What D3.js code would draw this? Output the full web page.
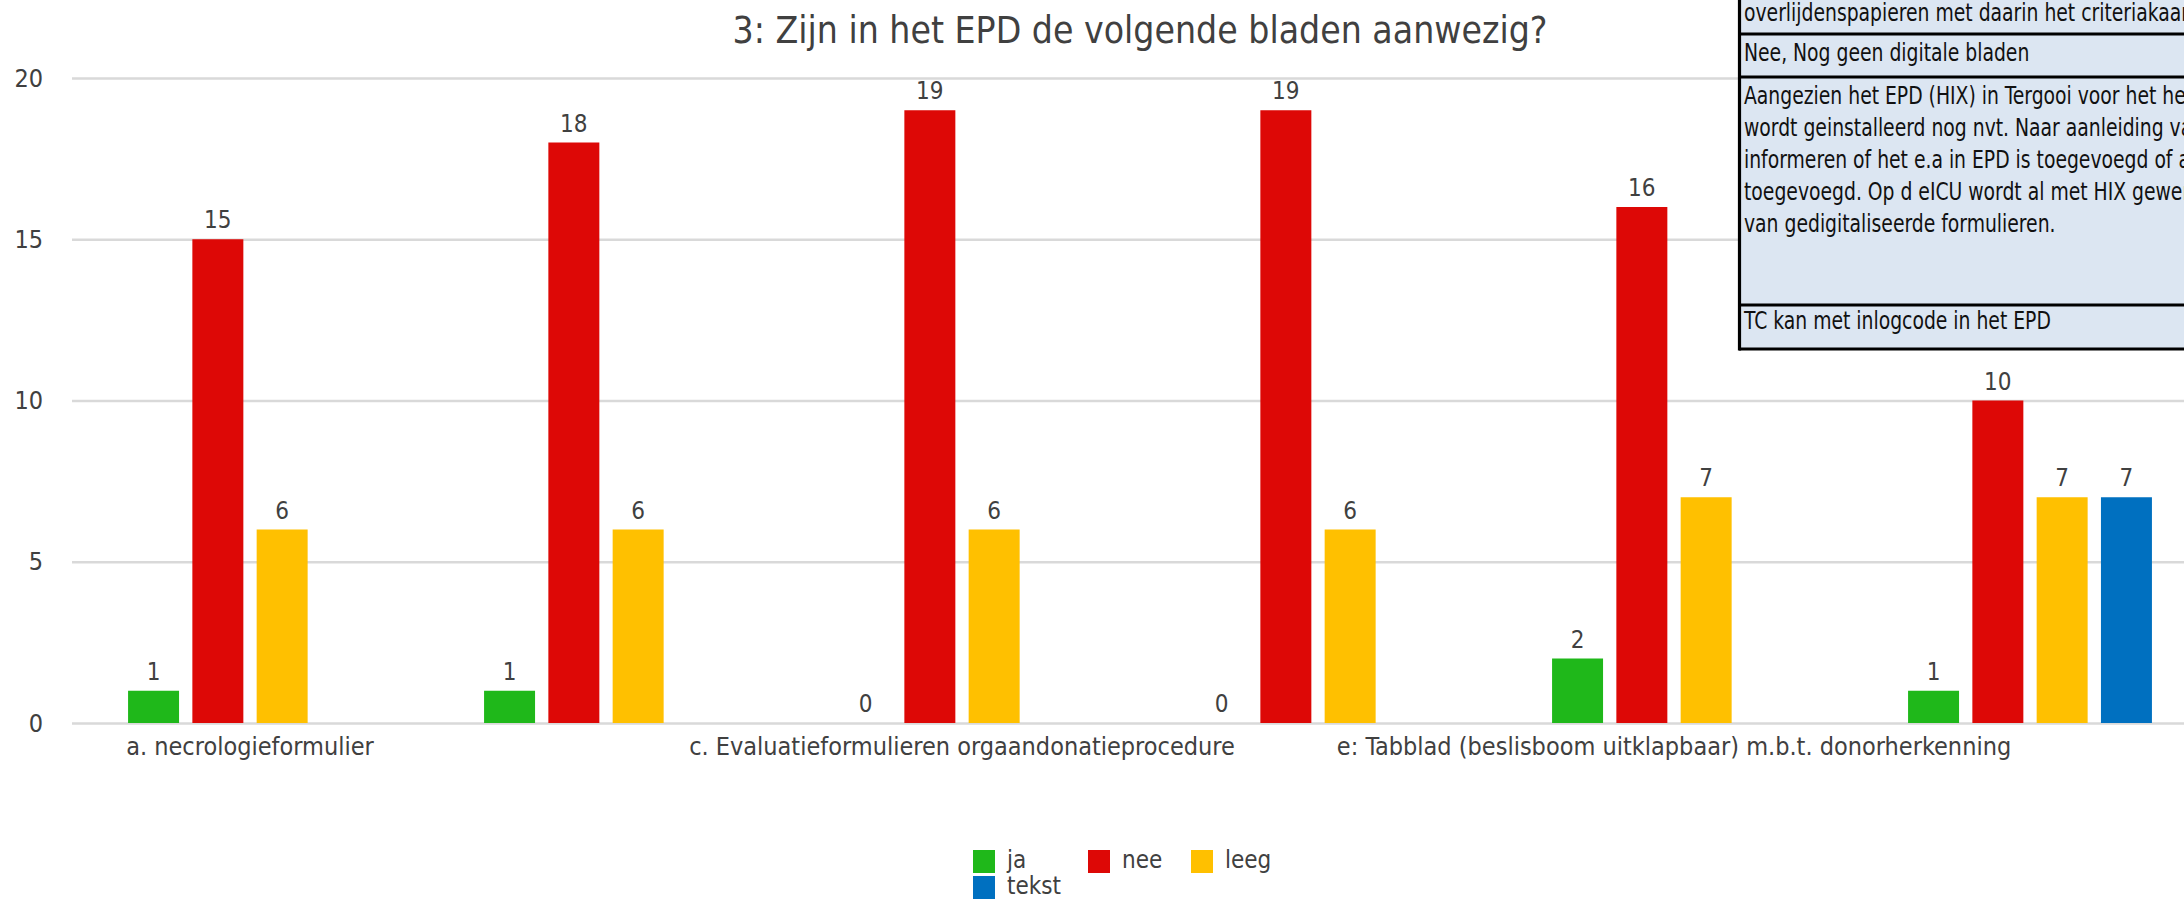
<!DOCTYPE html>
<html><head><meta charset="utf-8">
<script src="https://cdn.jsdelivr.net/npm/d3@7"></script>
<style>
html,body{margin:0;padding:0;background:#fff;overflow:hidden}
.f{font-family:'DejaVu Sans Condensed','DejaVu Sans',sans-serif;font-stretch:condensed}
.tbl{font-family:'Liberation Sans Narrow','DejaVu Sans Condensed',sans-serif;font-stretch:condensed}
</style>
</head><body>
<svg id="chart" width="2184" height="899"></svg>
<script>
// ---- data ----
const title = "3: Zijn in het EPD de volgende bladen aanwezig?";
const categories = ["a", "b", "c", "d", "e", "f"];
const tickLabels = ["a. necrologieformulier", "", "c. Evaluatieformulieren orgaandonatieprocedure", "", "e: Tabblad (beslisboom uitklapbaar) m.b.t. donorherkenning", ""];
const seriesNames = ["ja", "nee", "leeg", "tekst"];
const ja = [1, 1, 0, 0, 2, 1];
const nee = [15, 18, 19, 19, 16, 10];
const leeg = [6, 6, 6, 6, 7, 7];
const tekst = [null, null, null, null, null, 7];
const yTicks = [0, 5, 10, 15, 20];
const seriesColors = ["#1fb81a", "#dd0806", "#ffc000", "#0070c0"];
const tableRows = [
  ["overlijdenspapieren met daarin het criteriakaartje toegevoegd"],
  ["Nee, Nog geen digitale bladen"],
  ["Aangezien het EPD (HIX) in Tergooi voor het hele ziekenhuis",
   "wordt geinstalleerd nog nvt. Naar aanleiding van deze",
   "informeren of het e.a in EPD is toegevoegd of alsnog",
   "toegevoegd. Op d eICU wordt al met HIX gewerkt met",
   "van gedigitaliseerde formulieren."],
  ["TC kan met inlogcode in het EPD"]
];

const seriesValues = [ja, nee, leeg, tekst];

// ---- layout ----
const W = 2184, H = 899;
const svg = d3.select("#chart");
const textColor = "#404040";
const plotLeft = 72, catWidth = 356;

const x0 = d3.scaleBand().domain(categories).range([plotLeft, plotLeft + catWidth * categories.length]).padding(0);
const x1 = d3.scaleBand().domain(seriesNames).range([0, x0.bandwidth()]).paddingInner(0.207).paddingOuter(0.872);
const y = d3.scaleLinear().domain([0, 20]).range([723, 78]);

// gridlines + y axis
const yAxis = d3.axisLeft(y).tickValues(yTicks).tickSize(-(W - plotLeft)).tickPadding(29);
const gy = svg.append("g").attr("class", "f").attr("transform", `translate(${plotLeft},0)`).call(yAxis);
gy.select(".domain").remove();
gy.selectAll(".tick line").attr("stroke", "#d9d9d9").attr("stroke-width", 2.5);
gy.selectAll(".tick text").attr("fill", textColor).attr("font-size", 25).attr("font-family", null);

// x axis
const xAxis = d3.axisBottom(x0).tickSize(0).tickPadding(14).tickFormat((d, i) => tickLabels[i]);
const gx = svg.append("g").attr("class", "f").attr("transform", `translate(0,${y(0)})`).call(xAxis);
gx.select(".domain").remove();
gx.selectAll(".tick text").attr("fill", textColor).attr("font-size", 25).attr("font-family", null);

// bars
seriesNames.forEach((s, si) => {
  const pts = categories.map((c, ci) => ({c, v: seriesValues[si][ci]})).filter(d => d.v !== null);
  const g = svg.append("g");
  g.selectAll("rect").data(pts).join("rect")
    .attr("x", d => x0(d.c) + x1(s))
    .attr("width", x1.bandwidth())
    .attr("y", d => y(d.v))
    .attr("height", d => y(0) - y(d.v))
    .attr("fill", seriesColors[si]);
  svg.append("g").attr("class", "f").selectAll("text").data(pts).join("text")
    .attr("x", d => x0(d.c) + x1(s) + x1.bandwidth() / 2)
    .attr("y", d => y(d.v) - 11)
    .attr("text-anchor", "middle")
    .attr("font-size", 24)
    .attr("fill", textColor)
    .text(d => d.v);
});

// title
svg.append("text").attr("class", "f")
  .attr("x", 1140).attr("y", 43)
  .attr("text-anchor", "middle").attr("font-size", 37).attr("fill", textColor)
  .text(title);

// legend
const legendCols = [973, 1088, 1191];
const legendRows = [850, 876];
const lg = svg.append("g").attr("class", "f");
seriesNames.forEach((s, i) => {
  const lx = legendCols[i % 3], ly = legendRows[Math.floor(i / 3)];
  lg.append("rect").attr("x", lx).attr("y", ly).attr("width", 22).attr("height", 23).attr("fill", seriesColors[i]);
  lg.append("text").attr("x", lx + 34).attr("y", ly + 18).attr("font-size", 24).attr("fill", textColor).text(s);
});

// overlay table (pasted cells)
const tblX = 1739;
const borders = [-10, 34, 77, 305, 349];
const baselines = [[21], [61], [104, 136, 168, 200, 232], [329]];
const tg = svg.append("g").attr("class", "tbl");
tg.append("rect").attr("x", tblX).attr("y", -10).attr("width", W - tblX + 10).attr("height", 359).attr("fill", "#dce6f2");
tableRows.forEach((lines, ri) => {
  lines.forEach((t, li) => {
    tg.append("text")
      .attr("transform", `translate(${tblX + 5},${baselines[ri][li]}) scale(0.87,1)`)
      .attr("font-size", 24).attr("fill", "#111").text(t);
  });
});
borders.forEach(b => {
  tg.append("line").attr("x1", tblX).attr("x2", W + 10).attr("y1", b).attr("y2", b)
    .attr("stroke", "#000").attr("stroke-width", 3.2);
});
tg.append("line").attr("x1", tblX + 0.5).attr("x2", tblX + 0.5).attr("y1", -10).attr("y2", 350.6)
  .attr("stroke", "#000").attr("stroke-width", 3.2);
</script>
</body></html>
